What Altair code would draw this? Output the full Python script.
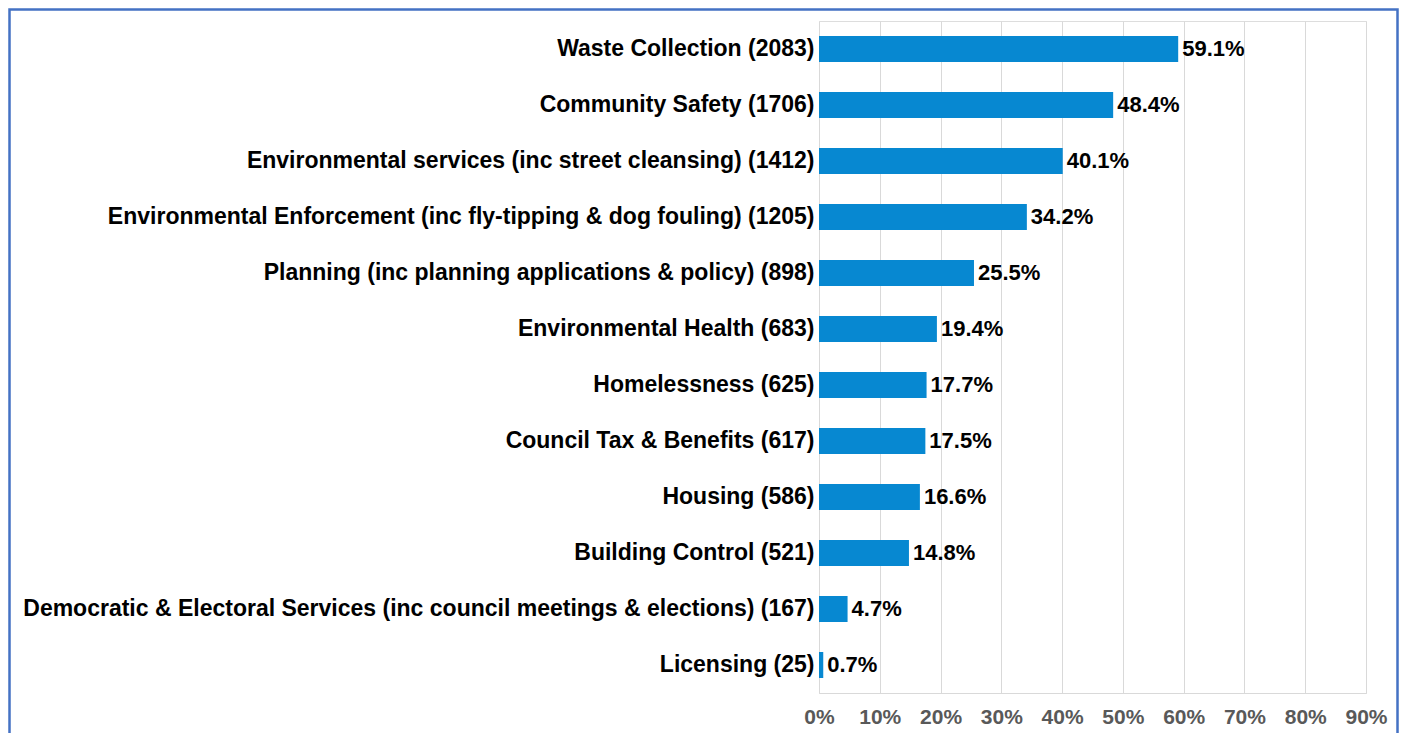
import altair as alt
import pandas as pd

categories = [
    "Waste Collection",
    "Community Safety",
    "Environmental services (inc street cleansing)",
    "Environmental Enforcement (inc fly-tipping & dog fouling)",
    "Planning (inc planning applications & policy)",
    "Environmental Health",
    "Homelessness",
    "Council Tax & Benefits",
    "Housing",
    "Building Control",
    "Democratic & Electoral Services (inc council meetings & elections)",
    "Licensing",
]
counts = [2083, 1706, 1412, 1205, 898, 683, 625, 617, 586, 521, 167, 25]
percents = [59.1, 48.4, 40.1, 34.2, 25.5, 19.4, 17.7, 17.5, 16.6, 14.8, 4.7, 0.7]
x_ticks = [0, 0.1, 0.2, 0.3, 0.4, 0.5, 0.6, 0.7, 0.8, 0.9]

labels = [f"{c} ({n})" for c, n in zip(categories, counts)]
df = pd.DataFrame({"label": labels, "share": [p / 100 for p in percents]})

FONT = "Liberation Sans"
BAR = "#0788D1"

y_enc = alt.Y(
    "label:N",
    sort=labels,
    title=None,
    scale=alt.Scale(paddingInner=0.536, paddingOuter=0.268),
    axis=alt.Axis(
        domain=False, ticks=False, grid=False,
        labelFont=FONT, labelFontSize=23, labelFontWeight="bold",
        labelColor="#000000", labelPadding=5, labelLimit=1000,
    ),
)
x_enc = alt.X(
    "share:Q",
    title=None,
    scale=alt.Scale(domain=[0, 0.9], nice=False),
    axis=alt.Axis(
        values=x_ticks, format=".0%", grid=True, gridColor="#d9d9d9",
        domain=True, domainColor="#d9d9d9", ticks=False,
        labelFont=FONT, labelFontSize=21, labelFontWeight="bold",
        labelColor="#595959", labelPadding=13, labelOverlap=False,
        labelFlush=False,
    ),
)

bars = alt.Chart(df).mark_bar(color=BAR).encode(x=x_enc, y=y_enc)

texts = alt.Chart(df).mark_text(
    align="left", baseline="middle", dx=4,
    font=FONT, fontSize=22, fontWeight="bold", color="#000000",
).encode(
    x="share:Q",
    y=alt.Y("label:N", sort=labels),
    text=alt.Text("share:Q", format=".1%"),
)

frame = alt.Chart(pd.DataFrame({"k": [0]})).mark_rect(
    fill="transparent", stroke="#4472C4", strokeWidth=2.5
).encode(
    x=alt.value(-809.5), x2=alt.value(578.5),
    y=alt.value(-11.5), y2=alt.value(740),
)

chart = alt.layer(bars, texts, frame).properties(
    width=547, height=672,
    autosize=alt.AutoSizeParams(type="none"),
    padding={"left": 811, "top": 13, "right": 33, "bottom": 40},
).configure_view(stroke=None).configure(background="white")

chart.save("out.html", embed_options={"renderer": "svg", "actions": False})
